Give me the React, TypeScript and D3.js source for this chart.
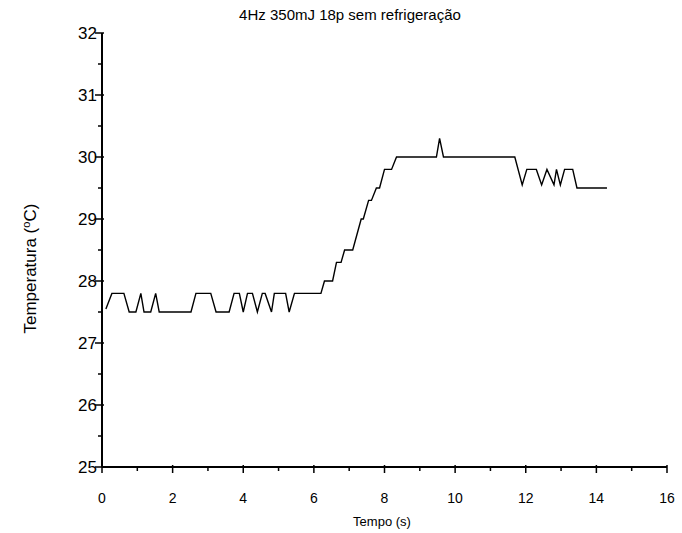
import * as d3 from "d3";

// Temperature trace: [time (s), temperature (°C)]
const tempo = [0.11, 0.28, 0.62, 0.77, 0.96, 1.1, 1.19, 1.38, 1.52, 1.62, 2.52, 2.66, 3.08, 3.23, 3.6, 3.74, 3.89, 4.0, 4.12, 4.26, 4.4, 4.54, 4.62, 4.8, 4.88, 5.2, 5.3, 5.45, 6.2, 6.3, 6.53, 6.64, 6.77, 6.87, 7.1, 7.34, 7.4, 7.55, 7.63, 7.77, 7.86, 8.0, 8.2, 8.34, 9.47, 9.56, 9.67, 11.69, 11.9, 12.03, 12.3, 12.45, 12.6, 12.8, 12.87, 12.98, 13.1, 13.33, 13.45, 14.3];
const temperatura = [27.55, 27.8, 27.8, 27.5, 27.5, 27.8, 27.5, 27.5, 27.8, 27.5, 27.5, 27.8, 27.8, 27.5, 27.5, 27.8, 27.8, 27.5, 27.8, 27.8, 27.5, 27.8, 27.8, 27.5, 27.8, 27.8, 27.5, 27.8, 27.8, 28.0, 28.0, 28.3, 28.3, 28.5, 28.5, 29.0, 29.0, 29.3, 29.3, 29.5, 29.5, 29.8, 29.8, 30.0, 30.0, 30.3, 30.0, 30.0, 29.55, 29.8, 29.8, 29.55, 29.8, 29.55, 29.8, 29.55, 29.8, 29.8, 29.5, 29.5];
const xTicks = [0, 2, 4, 6, 8, 10, 12, 14, 16];
const yTicks = [25, 26, 27, 28, 29, 30, 31, 32];

const W = 682, H = 533;
const x = d3.scaleLinear().domain([0, 16]).range([102, 667]);
const y = d3.scaleLinear().domain([25, 32]).range([467, 33]);

export default function App() {
  const pts: [number, number][] = tempo.map((t, i) => [t, temperatura[i]]);
  const line = d3.line<[number, number]>().x((d) => x(d[0])).y((d) => y(d[1]));
  const font = "Arial, 'Liberation Sans', sans-serif";
  const xMinor = d3.range(1, 16, 2);
  const yMinor = d3.range(25.5, 32, 1);
  return (
    <svg width={W} height={H} style={{ position: "absolute", left: 0, top: 0 }} fontFamily={font}>
      <rect width={W} height={H} fill="#fff" />
      <text x={350} y={20} textAnchor="middle" fontSize={15}>4Hz 350mJ 18p sem refrigeração</text>
      {/* axes */}
      <line x1={x(0)} x2={x(16)} y1={y(25)} y2={y(25)} stroke="#000" strokeWidth={2} />
      <line x1={x(0)} x2={x(0)} y1={y(25)} y2={y(32)} stroke="#000" strokeWidth={2} />
      {xTicks.map((t) => (
        <g key={t}>
          <line x1={x(t)} x2={x(t)} y1={y(25) - 2} y2={y(25) + 6} stroke="#000" strokeWidth={1.5} />
          <text x={x(t)} y={y(25) + 36} textAnchor="middle" fontSize={14}>{t}</text>
        </g>
      ))}
      {xMinor.map((t) => (
        <line key={t} x1={x(t)} x2={x(t)} y1={y(25)} y2={y(25) + 4} stroke="#000" strokeWidth={1.5} />
      ))}
      {yTicks.map((t) => (
        <g key={t}>
          <line x1={x(0) - 7} x2={x(0) + 2} y1={y(t)} y2={y(t)} stroke="#000" strokeWidth={1.5} />
          <text x={x(0) - 5} y={y(t) + 6} textAnchor="end" fontSize={17}>{t}</text>
        </g>
      ))}
      {yMinor.map((t) => (
        <line key={t} x1={x(0) - 4} x2={x(0)} y1={y(t)} y2={y(t)} stroke="#000" strokeWidth={1.5} />
      ))}
      <text x={382} y={526} textAnchor="middle" fontSize={13}>Tempo (s)</text>
      <text transform={`translate(36,${y(28.2)}) rotate(-90)`} textAnchor="middle" fontSize={17}>
        Temperatura (<tspan dy={-6} fontSize={11}>o</tspan><tspan dy={6}>C)</tspan>
      </text>
      <path d={line(pts) ?? ""} fill="none" stroke="#000" strokeWidth={1.4} />
    </svg>
  );
}
